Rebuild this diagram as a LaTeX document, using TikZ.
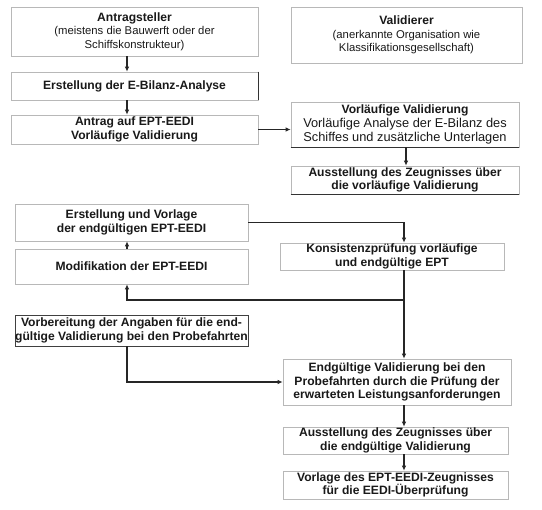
\documentclass[tikz,border=0pt]{standalone}
\usepackage{fontspec}
\setmainfont{Liberation Sans}
\usetikzlibrary{arrows.meta}
\newcommand{\smtxt}[1]{{\fontsize{11.3}{14}\selectfont\mdseries #1}}
\newcommand{\rgtxt}[1]{{\fontsize{12.8}{14}\selectfont\mdseries #1}}
\begin{document}
\begin{tikzpicture}[x=1pt,y=-1pt,
  box/.style={draw=black!28, line width=0.6pt, rectangle, inner sep=0pt, align=center,
     font=\fontsize{12.1}{13.6}\selectfont\bfseries, text=black!90},
  darkbox/.style={box, draw=black!75, line width=0.9pt},
  arr/.style={line width=1.3pt, draw=black!85, -{Latex[length=5pt,width=4.5pt]}},
  ln/.style={line width=1.3pt, draw=black!85}]
\useasboundingbox (0,0) rectangle (542,510);
\fill[white] (0,0) rectangle (542,510);
\coordinate (lx) at (127,0);
\coordinate (rx) at (404,0);
\coordinate (mx) at (406,0);

\node[box, minimum width=247pt, minimum height=49pt] (ant) at (134.5,31.5)
  {Antragsteller\\\smtxt{(meistens die Bauwerft oder der}\\\smtxt{Schiffskonstrukteur)}};
\node[box, minimum width=247pt, minimum height=28pt] (ebil) at (134.5,86) {Erstellung der E-Bilanz-Analyse};
\node[box, minimum width=247pt, minimum height=29pt] (antrag) at (134.5,129.5) {Antrag auf EPT-EEDI\\Vorläufige Validierung};

\node[box, minimum width=231pt, minimum height=56pt] (val) at (406.5,35)
  {Validierer\\\smtxt{(anerkannte Organisation wie}\\\smtxt{Klassifikationsgesellschaft)}};
\node[box, minimum width=228pt, minimum height=45pt] (vorl) at (405,124.5)
  {Vorläufige Validierung\\\rgtxt{Vorläufige Analyse der E-Bilanz des}\\\rgtxt{Schiffes und zusätzliche Unterlagen}};
\node[box, minimum width=228pt, minimum height=28pt] (aus1) at (405,180) {Ausstellung des Zeugnisses über\\die vorläufige Validierung};

\node[box, minimum width=233pt, minimum height=37pt] (erst) at (131.5,222.5) {Erstellung und Vorlage\\der endgültigen EPT-EEDI};
\node[box, minimum width=233pt, minimum height=35pt] (mod) at (131.5,266.5) {Modifikation der EPT-EEDI};
\node[box, minimum width=224pt, minimum height=27pt] (kons) at (392,256.5) {Konsistenzprüfung vorläufige\\und endgültige EPT};
\node[darkbox, minimum width=233pt, minimum height=31pt] (vorb) at (131.5,330.5) {Vorbereitung der Angaben für die end-\\gültige Validierung bei den Probefahrten};

\node[box, minimum width=228pt, minimum height=46pt] (endg) at (397,382) {Endgültige Validierung bei den\\Probefahrten durch die Prüfung der\\erwarteten Leistungsanforderungen};
\node[box, minimum width=225pt, minimum height=27pt] (aus2) at (395.5,440.5) {Ausstellung des Zeugnisses über\\die endgültige Validierung};
\node[box, minimum width=225pt, minimum height=28pt] (vorl2) at (395.5,485) {Vorlage des EPT-EEDI-Zeugnisses\\für die EEDI-Überprüfung};

% dark edges
\draw[black!80, line width=0.9pt] (ebil.north east) -- (ebil.south east);
\draw[black!80, line width=0.9pt] (vorl.south west) -- (vorl.south east);
\draw[black!80, line width=0.9pt] (aus1.south west) -- (aus1.south east);

% connectors
\draw[arr] (ant.south -| lx) -- (ebil.north -| lx);
\draw[arr] (ebil.south -| lx) -- (antrag.north -| lx);
\draw[arr] (antrag.east) -- (vorl.west |- antrag.east);
\draw[arr] (vorl.south -| mx) -- (aus1.north -| mx);
\draw[arr] (mod.north -| lx) -- (erst.south -| lx);
\draw[arr] (erst.east) -| (kons.north -| rx);
\coordinate (br) at (404,300);
\draw[ln] (kons.south -| rx) -- (br);
\draw[arr] (br) -| (mod.south -| lx);
\draw[arr] (br) -- (endg.north -| rx);
\draw[arr] (vorb.south -| lx) |- (endg.west);
\draw[arr] (endg.south -| rx) -- (aus2.north -| rx);
\draw[arr] (aus2.south -| rx) -- (vorl2.north -| rx);
\end{tikzpicture}
\end{document}
